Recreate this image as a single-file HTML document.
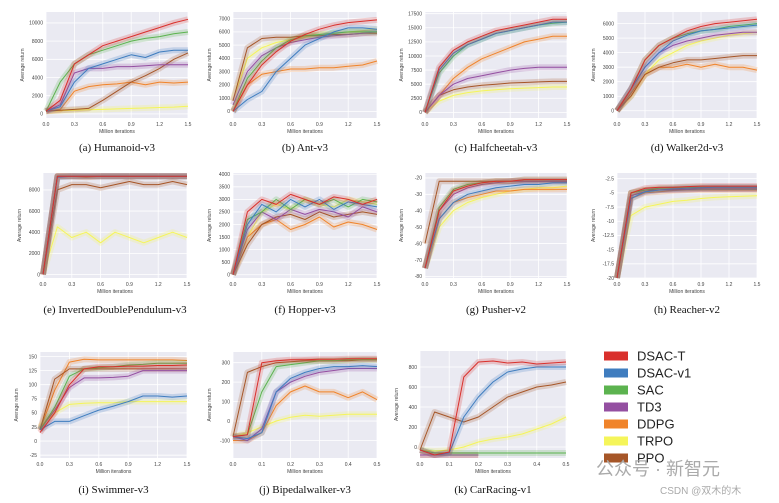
<!DOCTYPE html>
<html><head><meta charset="utf-8">
<style>
body{margin:0;background:#fff;}
svg{display:block;}
.tk{font-family:"Liberation Sans",sans-serif;font-size:5px;fill:#444;}
.cap{font-family:"Liberation Serif",serif;font-size:11px;fill:#111;}
.lg{font-family:"Liberation Sans",sans-serif;font-size:13px;fill:#222;}
</style></head>
<body>
<svg id="fig" width="779" height="503" viewBox="0 0 779 503"></svg>
<script>
const seriesNames = ["DSAC-T","DSAC-v1","SAC","TD3","DDPG","TRPO","PPO"];
const seriesColors = ["#d9302c","#3f7dbf","#5cb34f","#944fa1","#f0842b","#f5f55a","#a65628"];
const panelTitles = ["(a) Humanoid-v3","(b) Ant-v3","(c) Halfcheetah-v3","(d) Walker2d-v3","(e) InvertedDoublePendulum-v3","(f) Hopper-v3","(g) Pusher-v2","(h) Reacher-v2","(i) Swimmer-v3","(j) Bipedalwalker-v3","(k) CarRacing-v1"];
const xTicksLong = [0,0.3,0.6,0.9,1.2,1.5];
const xTicksShort = [0,0.1,0.2,0.3,0.4,0.5];
const yTicksA = [0,2000,4000,6000,8000,10000];
const yTicksB = [0,1000,2000,3000,4000,5000,6000,7000];
const yTicksC = [0,2500,5000,7500,10000,12500,15000,17500];
const yTicksD = [0,1000,2000,3000,4000,5000,6000];
const yTicksE = [0,2000,4000,6000,8000];
const yTicksF = [0,500,1000,1500,2000,2500,3000,3500,4000];
const yTicksG = [-80,-70,-60,-50,-40,-30,-20];
const yTicksH = [-20,-17.5,-15,-12.5,-10,-7.5,-5,-2.5];
const yTicksI = [-25,0,25,50,75,100,125,150];
const yTicksJ = [-100,0,100,200,300];
const yTicksK = [0,200,400,600,800];
const humanoidValues = [
 [300,1500,5500,6500,7500,8000,8500,9000,9500,10000,10400],
 [300,800,3500,5000,5500,6000,6500,6200,6800,7000,7000],
 [300,3500,5500,6500,7000,7500,8000,8300,8500,8800,9000],
 [300,1000,4500,5000,5000,5200,5200,5300,5400,5400,5400],
 [300,500,2500,3000,3200,3300,3500,3200,3500,3400,3500],
 [300,350,400,450,500,550,600,650,700,750,850],
 [300,400,500,600,1500,2500,3500,4200,5000,6000,6700]];
const antValues = [
 [0,2000,3500,4500,5300,5800,6200,6500,6700,6800,6900],
 [0,900,1500,3000,4000,5000,5500,6000,6300,6300,6200],
 [0,2500,3800,4800,5400,5700,5800,5900,6000,6000,6000],
 [500,3000,4200,4800,5200,5400,5600,5700,5800,5900,6000],
 [0,2000,2800,3000,3200,3200,3300,3300,3400,3500,3800],
 [800,4000,4800,5200,5400,5600,5800,5900,6000,6100,6200],
 [800,4800,5500,5600,5600,5700,5700,5800,5800,5900,5900]];
const cheetahValues = [
 [0,8000,11000,12500,13500,14500,15000,15500,16000,16500,16500],
 [0,7500,10500,12000,13000,14000,14500,15000,15500,16000,16000],
 [0,7000,10000,12000,13000,14000,14500,15000,15500,15800,16000],
 [0,3000,5000,6000,6500,7000,7500,7800,8000,8000,8000],
 [0,3000,6000,8000,9500,10500,11500,12500,13000,13500,13500],
 [0,2000,3000,3500,3800,4000,4200,4300,4400,4500,4500],
 [0,3000,4000,4500,4800,5000,5200,5300,5400,5500,5500]];
const walkerValues = [
 [0,1500,3500,4500,5000,5500,5800,6000,6100,6200,6300],
 [0,1500,3000,4000,4800,5200,5500,5600,5700,5800,5900],
 [0,1500,3500,4500,5000,5300,5500,5600,5800,5900,6000],
 [0,1500,3000,4000,4500,4800,5000,5200,5300,5400,5400],
 [0,1200,2500,3000,3000,3200,3000,3200,3000,3000,2800],
 [0,1000,2500,3500,4000,4500,4800,5000,5200,5300,5400],
 [0,1000,2500,3000,3300,3500,3500,3600,3700,3800,3800]];
const pendulumValues = [
 [0,9300,9300,9300,9300,9300,9300,9300,9300,9300,9300],
 [0,9200,9300,9300,9300,9300,9300,9300,9300,9300,9300],
 [0,9300,9300,9300,9300,9300,9300,9300,9300,9300,9300],
 [0,9300,9300,9300,9300,9300,9300,9300,9300,9300,9300],
 [0,9300,9300,9200,9300,9300,9300,9300,9300,9300,9300],
 [0,4500,3500,4000,3000,4000,3500,3000,3500,4000,3500],
 [0,8000,8500,8500,8200,8500,8800,8500,8500,8800,8500]];
const hopperValues = [
 [0,2500,3000,2800,3200,3000,2800,3100,3000,2800,3000],
 [0,2000,2800,2500,3000,2700,3000,2600,2900,2800,2700],
 [0,2200,2500,3000,2600,3000,2800,3000,2700,3000,2900],
 [0,1800,2500,2200,2600,2400,2600,2500,2300,2700,2500],
 [0,1500,2000,2200,1800,2000,2300,1900,2100,2000,1800],
 [0,1500,2500,2800,2600,3000,2800,2700,3000,2900,2800],
 [0,1200,2000,2300,2400,2200,2500,2300,2400,2500,2400]];
const pusherValues = [
 [-75,-40,-28,-25,-23,-22,-22,-21,-21,-21,-21],
 [-75,-45,-35,-30,-28,-26,-25,-24,-24,-23,-23],
 [-75,-38,-27,-24,-23,-22,-22,-21,-21,-21,-21],
 [-75,-40,-30,-26,-24,-23,-22,-22,-22,-22,-22],
 [-75,-45,-35,-32,-30,-28,-28,-27,-27,-27,-27],
 [-75,-50,-40,-35,-32,-30,-28,-27,-26,-26,-25],
 [-60,-22,-22,-22,-22,-22,-22,-22,-22,-22,-22]];
const reacherValues = [
 [-20,-5,-4.2,-4,-4,-3.9,-3.8,-3.8,-3.8,-3.8,-3.8],
 [-20,-6,-4.8,-4.5,-4.3,-4.2,-4.1,-4,-4,-4,-4],
 [-20,-5,-4.5,-4.2,-4.1,-4,-4,-4,-4,-4,-4],
 [-20,-5.5,-4.8,-4.5,-4.5,-4.4,-4.3,-4.3,-4.3,-4.3,-4.3],
 [-20,-6,-5,-4.8,-4.6,-4.5,-4.5,-4.5,-4.5,-4.5,-4.5],
 [-20,-9,-7.5,-7,-6.5,-6.3,-6,-5.8,-5.7,-5.6,-5.5],
 [-20,-5,-4.5,-4.5,-4.4,-4.4,-4.3,-4.3,-4.3,-4.3,-4.3]];
const swimmerValues = [
 [15,50,100,128,132,132,133,133,134,134,135],
 [20,35,35,45,55,62,70,80,80,78,80],
 [20,60,115,128,130,132,135,136,138,138,138],
 [20,55,95,112,112,113,115,125,125,125,125],
 [20,90,140,145,144,144,144,144,144,144,143],
 [25,50,65,67,68,68,70,70,70,70,70],
 [20,110,128,128,128,128,128,128,128,128,128]];
const bipedalValues = [
 [-80,-70,300,310,315,315,318,318,320,320,320],
 [-80,-90,-60,150,220,250,270,280,280,285,280],
 [-80,-70,150,280,290,300,310,310,315,315,315],
 [-80,-100,-40,150,200,230,250,260,270,270,270],
 [-100,-100,-60,80,150,180,150,150,120,150,110],
 [-80,-60,-30,0,20,30,25,30,35,35,35],
 [-80,250,280,300,305,310,310,310,310,315,315]];
const carValues = [
 [-30,-80,-50,700,850,860,840,850,830,840,850],
 [-30,-80,-60,300,500,650,750,780,800,800,800],
 [-30,-60,-60,-60,-60,-60,-60,-60,-60,-60,-60],
 [-80,-80,-80,-80,-80,null,null,null,null,null,null],
 [-80,-80,-80,-80,-80,null,null,null,null,null,null],
 [-30,-40,-30,0,50,80,100,130,180,230,300],
 [-30,350,300,250,300,400,500,550,600,620,650]];

const panelValues=[humanoidValues,antValues,cheetahValues,walkerValues,pendulumValues,hopperValues,pusherValues,reacherValues,swimmerValues,bipedalValues,carValues];
const panelYTicks=[yTicksA,yTicksB,yTicksC,yTicksD,yTicksE,yTicksF,yTicksG,yTicksH,yTicksI,yTicksJ,yTicksK];
const layout=[
 {x0:46,x1:188,y0:12,y1:118,ymin:-450,ymax:11200,xt:0,cy:151},
 {x0:233,x1:377,y0:12,y1:118,ymin:-500,ymax:7500,xt:0,cy:151},
 {x0:425,x1:567,y0:12,y1:118,ymin:-1000,ymax:17800,xt:0,cy:151},
 {x0:617,x1:757,y0:12,y1:118,ymin:-500,ymax:6800,xt:0,cy:151},
 {x0:43,x1:187,y0:173,y1:278,ymin:-330,ymax:9600,xt:0,cy:313},
 {x0:233,x1:377,y0:173,y1:278,ymin:-130,ymax:4050,xt:0,cy:313},
 {x0:425,x1:567,y0:173,y1:278,ymin:-81,ymax:-17,xt:0,cy:313},
 {x0:617,x1:757,y0:173,y1:278,ymin:-20,ymax:-1.5,xt:0,cy:313},
 {x0:40,x1:187,y0:352,y1:458,ymin:-30,ymax:158,xt:0,cy:493},
 {x0:233,x1:377,y0:352,y1:458,ymin:-190,ymax:355,xt:1,cy:493},
 {x0:420,x1:566,y0:351,y1:458,ymin:-110,ymax:960,xt:1,cy:493}];
const NS="http://www.w3.org/2000/svg";
const svg=document.getElementById('fig');
function mk(t,a,p){const e=document.createElementNS(NS,t);for(const k in a)e.setAttribute(k,a[k]);(p||svg).appendChild(e);return e;}
layout.forEach((L,pi)=>{
 const g=mk('g',{});
 
 
 const xt=L.xt?xTicksShort:xTicksLong, xmax=xt[xt.length-1];
 const sx=v=>L.x0+(v/xmax)*(L.x1-L.x0);
 const sy=v=>L.y1-(v-L.ymin)/(L.ymax-L.ymin)*(L.y1-L.y0);
 const bg=mk('rect',{x:L.x0,y:L.y0,width:L.x1-L.x0,height:L.y1-L.y0,fill:'#eaeaf2'},g);
 
 
 xt.forEach(t=>{const X=sx(t);mk('line',{x1:X,x2:X,y1:L.y0,y2:L.y1,stroke:'#fff','stroke-width':0.8},g);
  const tx=mk('text',{x:X,y:L.y1+8,'text-anchor':'middle',class:'tk'},g);tx.textContent=t.toFixed(1);
  });
 panelYTicks[pi].forEach(t=>{const Y=sy(t);mk('line',{x1:L.x0,x2:L.x1,y1:Y,y2:Y,stroke:'#fff','stroke-width':0.8},g);
  const ty=mk('text',{x:L.x0-3,y:Y+1.8,'text-anchor':'end',class:'tk'},g);ty.textContent=t;
  });
 const xl=mk('text',{x:(L.x0+L.x1)/2,y:L.y1+15,'text-anchor':'middle',class:'tk'},g);xl.textContent='Million iterations';
 
 const yl=mk('text',{x:0,y:0,'text-anchor':'middle',class:'tk',transform:`translate(${L.x0-22},${(L.y0+L.y1)/2}) rotate(-90)`},g);yl.textContent='Average return';
 
 const order=[5,4,6,3,2,1,0];
 order.forEach(si=>{const vals=panelValues[pi][si];const n=vals.length;let d='';
  vals.forEach((v,i)=>{if(v===null)return;d+=(d?'L':'M')+sx(i/(n-1)*xmax).toFixed(1)+','+sy(v).toFixed(1);});
  const band=mk('path',{d:d,fill:'none',stroke:seriesColors[si],'stroke-width':6,'stroke-opacity':0.22,'stroke-linejoin':'round'},g);
  
  const ln=mk('path',{d:d,fill:'none',stroke:seriesColors[si],'stroke-width':1,'stroke-linejoin':'round'},g);
  });
 const cp=mk('text',{x:(L.x0+L.x1)/2,y:L.cy,'text-anchor':'middle',class:'cap'},g);cp.textContent=panelTitles[pi];
 
});
seriesNames.forEach((nm,i)=>{const y=356+i*17;
 const r=mk('rect',{x:604,y:y-4.5,width:24,height:9,fill:seriesColors[i]});
 
 const t=mk('text',{x:637,y:y+4.5,class:'lg'});t.textContent=nm;
 });
const w1=mk('text',{x:596,y:475,fill:'#aaa','font-size':18,'font-family':'"Liberation Sans","Noto Sans CJK SC",sans-serif'});w1.textContent='公众号 · 新智元';

const w2=mk('text',{x:660,y:494,fill:'#aaa','font-size':10,'font-family':'"Liberation Sans","Noto Sans CJK SC",sans-serif'});w2.textContent='CSDN @双木的木';

</script>
</body></html>
